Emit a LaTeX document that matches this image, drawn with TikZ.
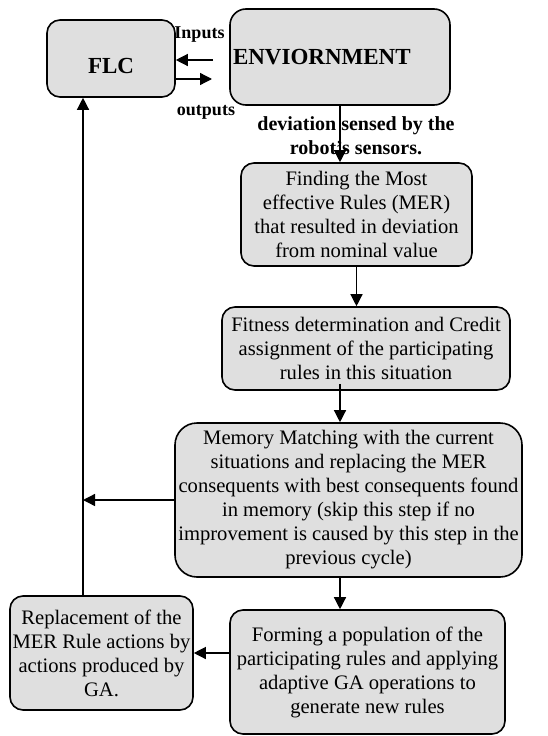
\documentclass[tikz,border=0pt]{standalone}
\usepackage{fontspec}
\setmainfont{Liberation Serif}
\usetikzlibrary{arrows.meta}
\definecolor{boxgray}{RGB}{223,223,223}
\tikzset{
  block/.style={draw, fill=boxgray, rounded corners=13pt, line width=1.6pt,
    align=center, inner sep=2pt, font=\fontsize{20.6}{24}\selectfont},
  lbl/.style={font=\bfseries\fontsize{18}{20}\selectfont},
}
\begin{document}
\begin{tikzpicture}[x=1pt, y=-1pt, line width=1.3pt, >={Triangle[length=12pt,width=12pt]}]
    \useasboundingbox (0,0) rectangle (547,736);
    % top row
    \node [block, minimum width=128pt, minimum height=77pt, text height=30pt, text depth=0pt,
           font=\bfseries\fontsize{23}{26}\selectfont] (flc) at (111,58.5) {FLC};
    \node [block, rounded corners=16pt, minimum width=220pt, minimum height=96pt, text width=214pt,
           align=left, inner sep=3pt, font=\bfseries\fontsize{23}{26}\selectfont] (env) at (340,57) {ENVIORNMENT};
    \node [lbl] (inlbl) at (199.5,35) {Inputs};
    \node [lbl] (outlbl) at (206,112) {outputs};
    \node [lbl, align=center, font=\bfseries\fontsize{20}{24}\selectfont] (devlbl) at (356,136)
          {deviation sensed by the\\ robot's sensors.};
    % steps
    \node [block, minimum width=231pt, minimum height=103pt] (find) at (356.5,214.5)
          {Finding the Most\\ effective Rules (MER)\\ that resulted in deviation\\ from nominal value};
    \node [block, minimum width=288pt, minimum height=83pt] (fit) at (366,348.5)
          {Fitness determination and Credit\\ assignment of the participating\\ rules in this situation};
    \node [block, rounded corners=22pt, minimum width=347pt, minimum height=154pt] (mem) at (348.5,500)
          {Memory Matching with the current\\ situations and replacing the MER\\ consequents with best consequents found\\ in memory (skip this step if no\\ improvement is caused by this step in the\\ previous cycle)};
    \node [block, minimum width=275pt, minimum height=124pt] (form) at (367.5,672)
          {Forming a population of the\\ participating rules and applying\\ adaptive GA operations to\\ generate new rules};
    \node [block, minimum width=183pt, minimum height=114pt] (rep) at (101.5,653)
          {Replacement of the\\ MER Rule actions by\\ actions produced by\\ GA.};
    % connectors
    \coordinate (fb) at (83,0);
    \coordinate (inp) at (213,60);
    \coordinate (outp) at (212,79);
    \draw [->] (inp) -- (inp -| flc.east);
    \draw [->] (outp -| flc.east) -- (outp);
    \draw [->] (env.south) -- (env.south |- find.north);
    \draw [->] (find.south) -- (find.south |- fit.north);
    \draw [->] ([yshift=7pt]fit.south -| env.south) -- (mem.north -| env.south);
    \draw [->] (mem.south -| env.south) -- (form.north -| env.south);
    \draw [->] (form.west |- rep.east) -- (rep.east);
    \draw [->] (mem.west) -- (mem.west -| fb);
    \draw [->] (rep.north -| fb) -- (flc.south -| fb);
\end{tikzpicture}
\end{document}
